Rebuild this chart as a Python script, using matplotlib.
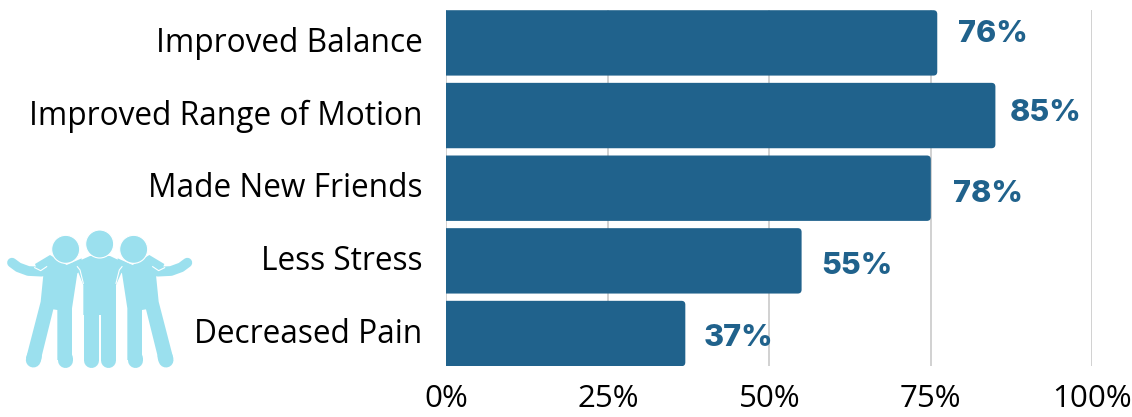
import numpy as np
import matplotlib
matplotlib.use('Agg')
import matplotlib.pyplot as plt
from matplotlib.patches import FancyBboxPatch, Circle, Polygon
from matplotlib.transforms import ScaledTranslation

# data, top to bottom
categories = ['Improved Balance', 'Improved Range of Motion', 'Made New Friends', 'Less Stress', 'Decreased Pain']
bar_values = [76, 85, 75, 55, 37]  # third bar is drawn shorter than its label in the original
value_labels = ['76%', '85%', '78%', '55%', '37%']
x_ticks = [0, 25, 50, 75, 100]
x_tick_labels = ['0%', '25%', '50%', '75%', '100%']

# label nudges in points (labels are not evenly placed in the original)
label_dx = [15, 10.5, 16, 14, 13]
label_dy = [6.5, 1.5, -4.5, -3.5, -3.5]

BAR_COLOR = '#20628c'
ICON_COLOR = '#9be0ee'
W, H = 1132, 417

fig = plt.figure(figsize=(W / 100, H / 100), dpi=100)
ax = fig.add_axes([446.3 / W, 1 - 366.2 / H, 646 / W, 356 / H])

y_pos = np.arange(len(categories))
bar_h = 0.9
for y, v in zip(y_pos, bar_values):
    # box starts left of zero so only the right corners show rounded
    box = FancyBboxPatch((-2, y - bar_h / 2), v + 2, bar_h,
                         boxstyle='round,pad=0,rounding_size=0.6',
                         mutation_aspect=0.089, fc=BAR_COLOR, ec='none', zorder=3)
    ax.add_patch(box)
    ax.annotate(value_labels[y], (v, y), xytext=(label_dx[y], label_dy[y]),
                textcoords='offset points', va='center', ha='left',
                fontsize=22, fontweight=800, family='Inter', color=BAR_COLOR)

ax.set_xlim(0, 100)
ax.set_ylim(len(categories) - 0.5 - 0.05, -0.5 + 0.05)
ax.set_xticks(x_ticks, x_tick_labels, fontsize=22.5, family='Open Sans')
ax.set_yticks(y_pos, categories, fontsize=22.8, family='Open Sans')
ax.tick_params(axis='both', length=0)
ax.tick_params(axis='y', pad=17)
ax.tick_params(axis='x', pad=13)
ax.grid(axis='x', color='#c9c9c9', lw=1.2, zorder=0)
ax.set_axisbelow(True)
for s in ax.spines.values():
    s.set_visible(False)

# y labels sit a little above the bar centres
up = ScaledTranslation(0, 2.5 / 72, fig.dpi_scale_trans)
for lab in ax.get_yticklabels():
    lab.set_transform(lab.get_transform() + up)

# icon of three people, in 3x pixels of the lower left corner
icon = fig.add_axes([0, 0, 460 / W, 197 / H])
icon.set_xlim(0, 1380)
icon.set_ylim(591, 0)
icon.axis('off')


def limb(pts, width=10.8):
    xs, ys = zip(*pts)
    icon.plot(xs, ys, color=ICON_COLOR, lw=width, solid_capstyle='round', solid_joinstyle='round', zorder=2)


def person(mirror):
    f = (lambda x: 598 - x) if mirror else (lambda x: x)
    limb([(f(x), y) for x, y in [(125, 155), (85, 153), (55, 142), (36, 128)]], 7)
    limb([(f(x), y) for x, y in [(100, 420), (103, 410)]])
    limb([(f(x), y) for x, y in [(194, 415), (194, 420)]])
    body = [(105, 132), (150, 105), (200, 135), (245, 115), (245, 150), (232, 160),
            (216, 265), (216, 420), (172, 420), (172, 270), (160, 268), (121, 425),
            (78, 415), (122, 245), (130, 165), (112, 150)]
    icon.add_patch(Polygon([(f(x), y) for x, y in body], fc=ICON_COLOR, ec='none', zorder=3))
    icon.plot([f(x) for x in [104, 122, 140]], [143, 152, 140], color='white', lw=0.8, zorder=4)
    icon.add_patch(Circle((f(197), 88), 42, fc=ICON_COLOR, ec='white', lw=0.8, zorder=6))


person(False)
person(True)
limb([(273, 280), (273, 420)])
limb([(325, 280), (325, 420)])
middle = [(232, 125), (270, 108), (330, 108), (366, 125), (368, 150), (348, 195), (348, 285), (250, 285), (250, 195), (232, 150)]
icon.add_patch(Polygon(middle, fc=ICON_COLOR, ec='none', zorder=5))
icon.plot([232, 240, 250], [140, 150, 190], color='white', lw=0.8, zorder=5)
icon.plot([366, 358, 348], [140, 150, 190], color='white', lw=0.8, zorder=5)
icon.add_patch(Circle((299, 72), 42, fc=ICON_COLOR, ec='white', lw=0.8, zorder=5))

fig.savefig('out.png', dpi=100)
